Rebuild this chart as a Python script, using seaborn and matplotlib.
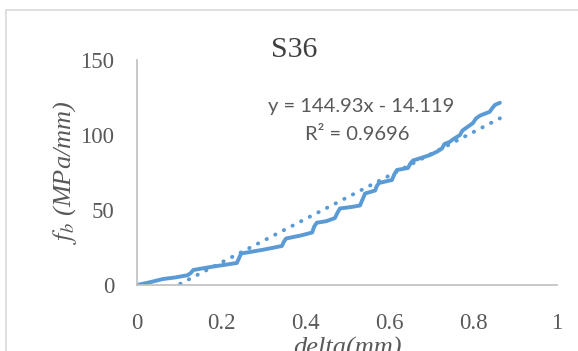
import numpy as np
import pandas as pd
import matplotlib
matplotlib.use("Agg")
import matplotlib.pyplot as plt
import seaborn as sns
from matplotlib.patches import Rectangle

# ---- data ----
delta = [0, 0.03, 0.062, 0.09, 0.12, 0.128, 0.134, 0.175, 0.21, 0.238, 0.243, 0.248,
         0.30, 0.345, 0.35, 0.355, 0.39, 0.417, 0.422, 0.428, 0.45, 0.471, 0.477, 0.483,
         0.51, 0.531, 0.537, 0.543, 0.567, 0.571, 0.576, 0.607, 0.613, 0.619, 0.645,
         0.651, 0.657, 0.68, 0.698, 0.715, 0.726, 0.732, 0.745, 0.752, 0.769, 0.775,
         0.785, 0.80, 0.807, 0.817, 0.84, 0.846, 0.852, 0.864]
fb = [0, 1.8, 4, 5, 6.5, 8, 10, 12, 13.5, 14.7, 18, 21,
      23.5, 26, 29, 31, 33, 35, 39, 41.5, 42.5, 44.6, 48, 51,
      52, 53, 57, 61, 63, 66, 68, 70, 74, 76.7, 78,
      81, 83, 85, 86.7, 89, 91, 94, 95.5, 97, 100, 103,
      105, 108, 111, 113, 115.5, 118, 120, 121.5]
slope = 144.93
intercept = -14.119
r2 = 0.9696
title = "S36"
xticks = [0, 0.2, 0.4, 0.6, 0.8, 1]
xtick_labels = ["0", "0.2", "0.4", "0.6", "0.8", "1"]
yticks = [0, 50, 100, 150]

df = pd.DataFrame({"delta": delta, "fb": fb})
trend_x = np.linspace(0, max(delta), 200)
trend = pd.DataFrame({"delta": trend_x, "fb": slope * trend_x + intercept})

sns.set_theme(style="white")
plt.rcParams["mathtext.fontset"] = "stix"

W, H = 578, 351
fig = plt.figure(figsize=(W / 100, H / 100), dpi=100)
ax = fig.add_axes([137 / W, 1 - 285 / H, 420 / W, 225 / H])

blue = "#5B9BD5"
gray_txt = "#595959"
sns.lineplot(data=trend, x="delta", y="fb", ax=ax, color=blue, lw=2.8,
             linestyle=(0, (0.1, 2.4)), sort=False)
for l in ax.lines:
    l.set_dash_capstyle("round")
sns.lineplot(data=df, x="delta", y="fb", ax=ax, color=blue, lw=2.8, sort=False,
             solid_capstyle="round", solid_joinstyle="round")

ax.set_xlim(0, 1)
ax.set_ylim(0, 150)
ax.set_xticks(xticks)
ax.set_xticklabels(xtick_labels)
ax.set_yticks(yticks)
for s in ["top", "right"]:
    ax.spines[s].set_visible(False)
for s in ["left", "bottom"]:
    ax.spines[s].set_color("#BFBFBF")
    ax.spines[s].set_linewidth(1.2)
ax.tick_params(axis="both", length=0, labelsize=16.5, labelcolor=gray_txt)
ax.tick_params(axis="x", pad=20)
ax.tick_params(axis="y", pad=16.5)
for t in ax.get_xticklabels() + ax.get_yticklabels():
    t.set_family("Liberation Serif")
ax.grid(False)

ax.set_xlabel("delta(mm)", family="Liberation Serif", style="italic",
              fontsize=19, color=gray_txt, labelpad=2)
ax.set_ylabel("$f_b$ (MPa/mm)", family="Liberation Serif", style="italic",
              fontsize=19, color=gray_txt, labelpad=1)

fig.text(294 / W, 1 - 50 / H, title, family="Liberation Serif", fontsize=21.5,
         color="#404040", ha="center", va="center")
fig.text(361 / W, 1 - 107 / H, f"y = {slope}x - {abs(intercept)}", family="Lato",
         fontsize=14.5, color=gray_txt, ha="center", va="center")
fig.text(357 / W, 1 - 135 / H, f"R² = {r2}", family="Lato",
         fontsize=14.5, color=gray_txt, ha="center", va="center")

fig.patches.append(Rectangle((6 / W, -0.1), 1.2, 1.1 - 10 / H, transform=fig.transFigure,
                             fill=False, edgecolor="#D9D9D9", lw=1.2))

fig.savefig("out.png", dpi=100)
